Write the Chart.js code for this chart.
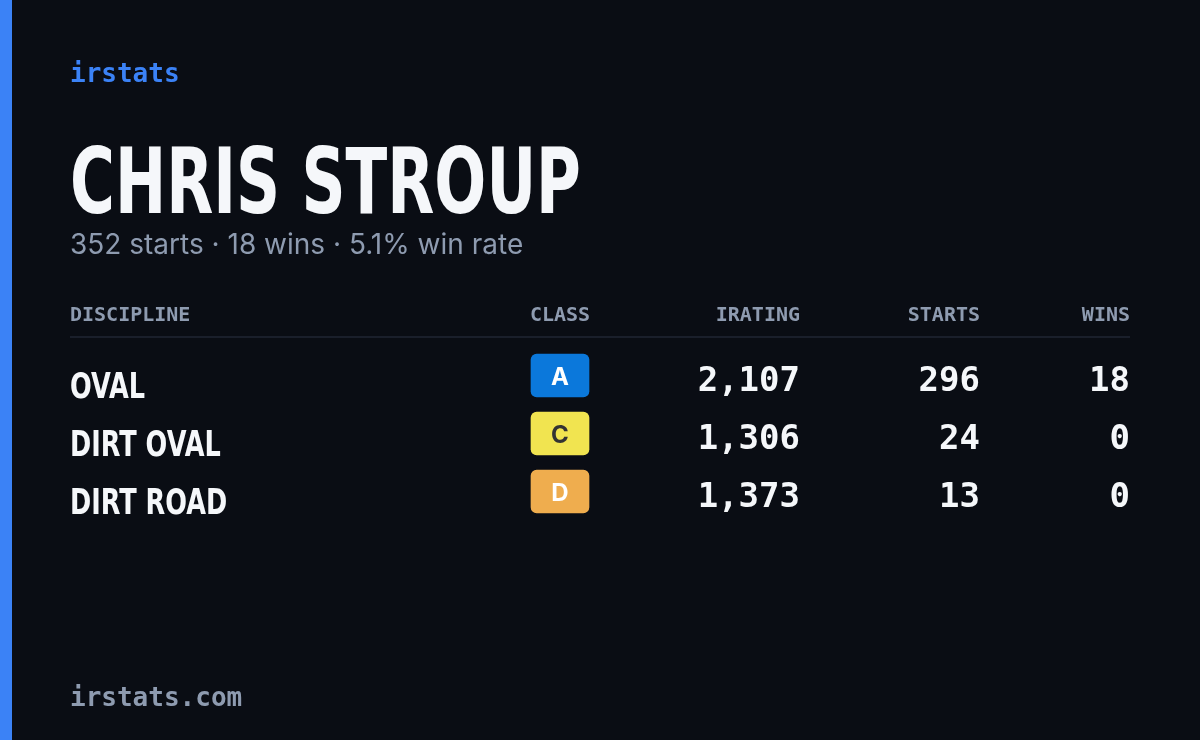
<!DOCTYPE html>
<html><head><meta charset="utf-8">
<script src="https://cdn.jsdelivr.net/npm/chart.js@4"></script>
<style>html,body{margin:0;padding:0;background:#0a0d14;overflow:hidden}#wrap{width:1200px;height:740px;position:relative}</style>
</head><body><div id="wrap"><canvas id="c" width="1200" height="740"></canvas></div>
<script>
const disciplines = ["OVAL", "DIRT OVAL", "DIRT ROAD"];
const classes = ["A", "C", "D"];
const iratings = [2107, 1306, 1373];
const starts = [296, 24, 13];
const wins = [18, 0, 0];
const headers = ["DISCIPLINE", "CLASS", "IRATING", "STARTS", "WINS"];
const driver = "CHRIS STROUP";
const brand = "irstats";
const footer = "irstats.com";
const totalStarts = 352, totalWins = 18, winRate = "5.1%";
const classColors = {A:"#0b78db", C:"#f1e450", D:"#efad4e"};
const classText = {A:"#ffffff", C:"#333333", D:"#ffffff"};
const subtitle = `${totalStarts} starts · ${totalWins} wins · ${winRate} win rate`;
const badgeSpan = [531, 589];

const mono = '"DejaVu Sans Mono", monospace';
const cond = '"DejaVu Sans", sans-serif';

function narrowText(ctx, txt, x, y, sx) {
  ctx.save(); ctx.translate(x, y); ctx.scale(sx, 1); ctx.fillText(txt, 0, 0); ctx.restore();
}

const cardPlugin = {
  id: 'card',
  beforeDraw(chart) {
    const ctx = chart.ctx;
    ctx.save();
    ctx.fillStyle = '#0a0d14'; ctx.fillRect(0,0,1200,740);
    ctx.fillStyle = '#3b82f6'; ctx.fillRect(0,0,12,740);
    ctx.strokeStyle = '#1a1f2b'; ctx.lineWidth = 2;
    ctx.beginPath(); ctx.moveTo(70,337); ctx.lineTo(1130,337); ctx.stroke();
    ctx.restore();
  },
  afterDraw(chart) {
    const ctx = chart.ctx, y = chart.scales.y;
    ctx.save();
    ctx.textBaseline = 'alphabetic';
    ctx.fillStyle = '#3b82f6'; ctx.font = 'bold 26px ' + mono; ctx.textAlign = 'left';
    ctx.fillText(brand, 70, 82);
    ctx.fillStyle = '#f5f7fa'; ctx.font = 'bold 90px ' + cond;
    narrowText(ctx, driver, 70, 213, 0.68);
    ctx.fillStyle = '#8e9bb0'; ctx.font = '28px Inter, "Noto Sans", sans-serif';
    ctx.fillText(subtitle, 70, 254);
    ctx.font = 'bold 20px ' + mono;
    const hx = [70, 560, 800, 980, 1130], ha = ['left','center','right','right','right'];
    headers.forEach((h,i)=>{ctx.textAlign = ha[i]; ctx.fillText(h, hx[i], 321);});
    disciplines.forEach((d,i)=>{
      const cy = y.getPixelForValue(i);
      ctx.fillStyle = '#f5f7fa'; ctx.textAlign = 'left'; ctx.font = 'bold 36px ' + cond;
      narrowText(ctx, d, 70, cy + 22, 0.71);
      ctx.font = 'bold 24px Inter, sans-serif'; ctx.textAlign = 'center'; ctx.fillStyle = classText[classes[i]];
      ctx.fillText(classes[i], 560, cy + 9);
      ctx.fillStyle = '#f5f7fa'; ctx.textAlign = 'right'; ctx.font = 'bold 34px ' + mono;
      ctx.fillText(iratings[i].toLocaleString('en-US'), 800, cy + 15);
      ctx.fillText(String(starts[i]), 980, cy + 15);
      ctx.fillText(String(wins[i]), 1130, cy + 15);
    });
    ctx.fillStyle = '#8e9bb0'; ctx.textAlign = 'left'; ctx.font = 'bold 26px ' + mono;
    ctx.fillText(footer, 70, 706);
    ctx.restore();
  }
};

new Chart(document.getElementById('c'), {
  type: 'bar',
  data: { labels: disciplines, datasets: [{
    data: classes.map(()=>badgeSpan),
    backgroundColor: classes.map(c=>classColors[c]),
    borderRadius: 6, borderSkipped: false, barThickness: 43
  }]},
  options: {
    indexAxis: 'y', responsive: false, animation: false, devicePixelRatio: 1,
    layout: { padding: { top: 346.5, bottom: 219.5, left: 0, right: 0 } },
    plugins: { legend: {display:false}, tooltip: {enabled:false} },
    scales: {
      x: { type: 'linear', min: 0, max: 1200, display: false },
      y: { type: 'category', display: false, offset: true }
    }
  },
  plugins: [cardPlugin]
});
</script></body></html>
